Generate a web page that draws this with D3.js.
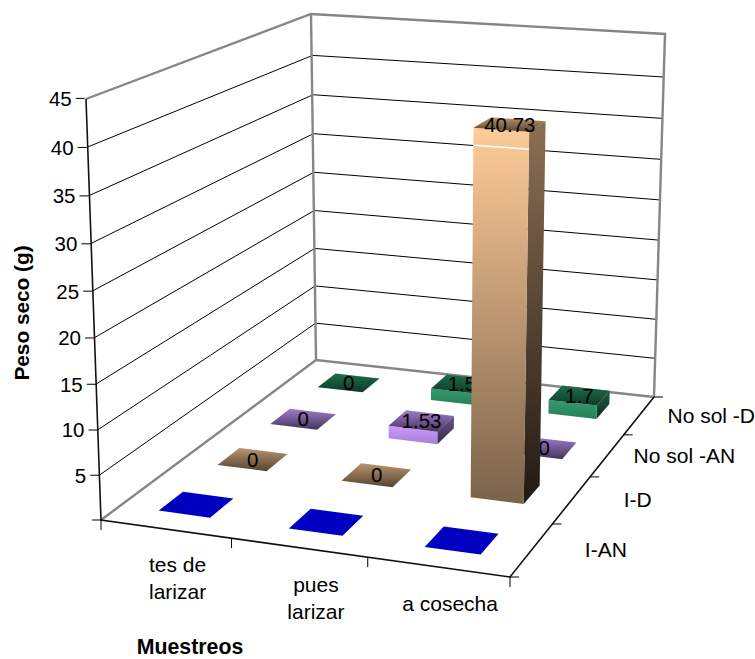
<!DOCTYPE html>
<html><head><meta charset="utf-8">
<script src="https://cdn.jsdelivr.net/npm/d3@7/dist/d3.min.js"></script>
<style>html,body{margin:0;background:#fff}svg{display:block}text{font-family:"Liberation Sans",Arial,sans-serif;fill:#000}</style>
</head><body><script>
// Chart content
const categories = [["tes de","larizar"],["pues","larizar"],["a cosecha"]];
const series = ["I-AN","I-D","No sol -AN","No sol -D"];
const valuesIAN = [0,0,0];
const valuesID = [0,0,40.73];
const valuesNoSolAN = [0,1.53,0];
const valuesNoSolD = [0,1.5,1.7];
const zTicks = [0,5,10,15,20,25,30,35,40,45];
const zMax = 45;
const seriesValues = [valuesIAN,valuesID,valuesNoSolAN,valuesNoSolD];
const showLabels = [false,true,true,true];

// Face colours per series
const frontColors = [["#0000c0","#0000c0"],["#ffcc99","#7a624a"],["#cc99ff","#a77fd6"],["#35996c","#268058"]];
const sideColors  = [["#0000c0","#0000c0"],["#8c7055","#221912"],["#6a5388","#3a2d4c"],["#1d5c40","#0c2f20"]];
const topColors   = [["#0000c0","#0000c0"],["#b89570","#56432f"],["#a07ccb","#44345a"],["#1f6e4c","#0d3a28"]];

// Scene anchors: where the floor and wall corners land on the page
const W = 755, H = 659;
const cA = [101,520], cB = [510,577], cC = [654,397], cD = [316,360];
const topA = [86,99], topD = [311,14], topC = [665,34];
// Calibration target for the front-left column of the camera fit
const fitA = [86,102];

// Homography of the unit floor square
const [x0,y0]=cA,[x1,y1]=cB,[x2,y2]=cC,[x3,y3]=cD;
const sx=x0-x1+x2-x3, sy=y0-y1+y2-y3, dx1=x1-x2, dx2=x3-x2, dy1=y1-y2, dy2=y3-y2;
const det=dx1*dy2-dx2*dy1;
const g=(sx*dy2-dx2*sy)/det, h=(dx1*sy-sx*dy1)/det;
const a=x1-x0+g*x1, b=x3-x0+h*x3, d=y1-y0+g*y1, e=y3-y0+h*y3;
const floorH=(u,v)=>[a*u+b*v+x0, d*u+e*v+y0, g*u+h*v+1];

// Least-squares fit of the vertical column of the camera matrix
const fitPts=[[0,0,fitA],[0,1,topD],[1,1,topC]].map(([u,v,[U,V]])=>{
  const [X,Y,Wh]=floorH(u,v);
  return {U,V,bx:U*Wh-X,by:V*Wh-Y};
});
const mU=d3.mean(fitPts,f=>f.U), mV=d3.mean(fitPts,f=>f.V), mBx=d3.mean(fitPts,f=>f.bx), mBy=d3.mean(fitPts,f=>f.by);
const r=-d3.sum(fitPts,f=>(f.U-mU)*(f.bx-mBx)+(f.V-mV)*(f.by-mBy))/d3.sum(fitPts,f=>(f.U-mU)**2+(f.V-mV)**2);
const p=mBx+mU*r, q=mBy+mV*r;

const zScale=d3.scaleLinear().domain([0,zMax]).range([0,1]);
const project=(u,v,val)=>{
  const z=zScale(val), [X,Y,Wh]=floorH(u,v);
  const w=Wh+r*z;
  return [(X+p*z)/w,(Y+q*z)/w];
};
const xBand=d3.scaleBand().domain(d3.range(categories.length)).range([0,1]).paddingInner(0.6).paddingOuter(0.3);
const yBand=d3.scaleBand().domain(d3.range(series.length)).range([0,1]).paddingInner(0.6).paddingOuter(0.3);
const xEdge=d3.scaleLinear().domain([0,categories.length]).range([0,1]);
const yEdge=d3.scaleLinear().domain([0,series.length]).range([0,1]);

const svg=d3.select("body").append("svg").attr("width",W).attr("height",H);
const defs=svg.append("defs");
const gradient=(id,[c0,c1])=>{
  const lg=defs.append("linearGradient").attr("id",id).attr("x1",0).attr("y1",0).attr("x2",0).attr("y2",1);
  lg.append("stop").attr("offset",0).attr("stop-color",c0);
  lg.append("stop").attr("offset",1).attr("stop-color",c1);
};
series.forEach((_,i)=>{gradient("front"+i,frontColors[i]);gradient("side"+i,sideColors[i]);gradient("top"+i,topColors[i]);});

const line=d3.line();
const seg=(parent,pts,stroke,width)=>parent.append("path").attr("d",line(pts)).attr("fill","none").attr("stroke",stroke).attr("stroke-width",width);

// Gridlines on the two walls
const grid=svg.append("g");
zTicks.filter(t=>t>0&&t<zMax).forEach(t=>{
  seg(grid,[project(0,0,t),project(0,1,t),project(1,1,t)],"#000",1);
});

// Wall and floor outlines
const walls=svg.append("g");
seg(walls,[cA,cD,cC],"#868686",2.4);
seg(walls,[topA,topD,topC,cC],"#868686",2.4);
seg(walls,[cD,topD],"#868686",2.4);

// Axis lines and ticks
const axes=svg.append("g");
seg(axes,[topA,cA,cB,cC],"#111",1.6);
zTicks.forEach(t=>{const [px,py]=project(0,0,t);seg(axes,[[px-9,py],[px,py]],"#000",1);});
d3.range(categories.length+1).forEach(i=>{const [px,py]=project(xEdge(i),0,0);seg(axes,[[px,py],[px,py+10]],"#000",1);});
d3.range(series.length+1).forEach(i=>{const [px,py]=project(1,yEdge(i),0);seg(axes,[[px,py],[px+9,py]],"#000",1);});

// Bars, drawn from the back row to the front
const bars=svg.append("g");
d3.range(series.length).reverse().forEach(si=>{
  categories.forEach((_,ci)=>{
    const val=seriesValues[si][ci];
    const u0=xBand(ci),u1=u0+xBand.bandwidth(),v0=yBand(si),v1=v0+yBand.bandwidth();
    const g1=bars.append("g");
    const face=(pts,fill)=>g1.append("path").attr("d",line(pts)+"Z").attr("fill",fill);
    if(val>0){
      face([project(u1,v0,0),project(u1,v1,0),project(u1,v1,val),project(u1,v0,val)],`url(#side${si})`);
      face([project(u0,v0,0),project(u1,v0,0),project(u1,v0,val),project(u0,v0,val)],`url(#front${si})`);
    }
    face([project(u0,v0,val),project(u1,v0,val),project(u1,v1,val),project(u0,v1,val)],`url(#top${si})`);
    if(val>20){
      // Highlight seam across the front of the tall bar
      seg(g1,[project(u0,v0,val*0.955),project(u1,v0,val*0.955)],"#fff",1.5);
    }
    if(showLabels[si]){
      const [lx,ly]=project((u0+u1)/2,(v0+v1)/2,val);
      g1.append("text").attr("x",lx).attr("y",ly).attr("text-anchor","middle").attr("dy","0.36em").style("font-size","20.5px").text(val);
    }
  });
});

// Axis labels
const labels=svg.append("g").style("font-size","21px");
zTicks.filter(t=>t>0).forEach(t=>{
  const [px,py]=project(0,0,t);
  labels.append("text").attr("x",px-13).attr("y",py).attr("dy","0.36em").attr("text-anchor","end").style("font-size","20.5px").text(t);
});
const catOffsets=[[12,43],[17,44],[12,44]];
const catLineHeight=27;
categories.forEach((lines,i)=>{
  const [px,py]=project(xBand(i)+xBand.bandwidth()/2,0,0);
  const t=labels.append("text").attr("text-anchor","middle");
  lines.forEach((s,k)=>t.append("tspan").attr("x",px+catOffsets[i][0]).attr("y",py+catOffsets[i][1]+k*catLineHeight).text(s));
});
const seriesOffsets=[74,66,77,72];
series.forEach((s,i)=>{
  const [px,py]=project(1,yBand(i)+yBand.bandwidth()/2,0);
  labels.append("text").attr("x",px+seriesOffsets[i]).attr("y",py).attr("dy","0.36em").attr("text-anchor","middle").text(s);
});
svg.append("text").attr("transform","translate(28.5,313) rotate(-90)").attr("text-anchor","middle").style("font-size","20.8px").style("font-weight","bold").text("Peso seco (g)");
svg.append("text").attr("x",190).attr("y",654).attr("text-anchor","middle").style("font-size","21.3px").style("font-weight","bold").text("Muestreos");
</script></body></html>
